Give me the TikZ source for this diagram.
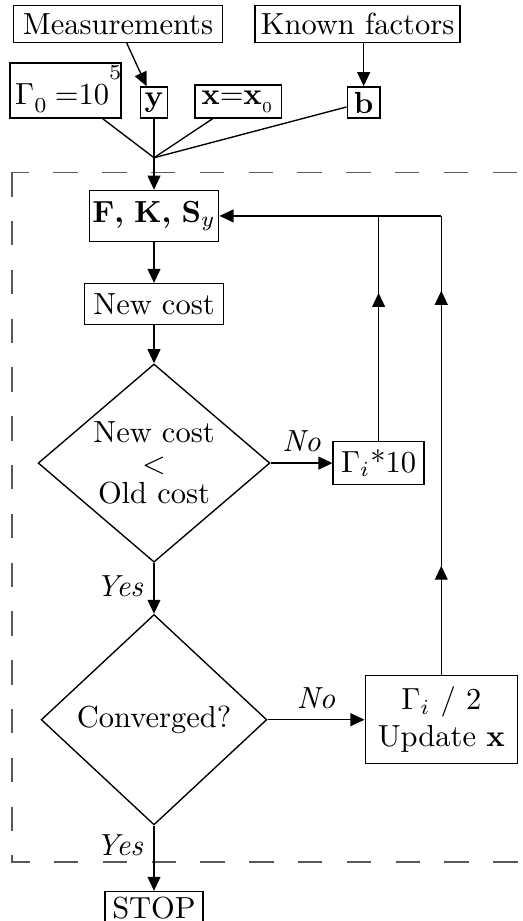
\documentclass[tikz,border=0pt]{standalone}
\usepackage{amsmath,amssymb}
\usepackage{tikz}
\usetikzlibrary{arrows.meta,positioning,shapes.geometric,calc,decorations.markings}

\begin{document}
\begin{tikzpicture}[>={Triangle[length=4.6pt,width=4.2pt]}, line width=0.45pt]
\tikzset{blk/.style={draw, inner sep=1pt}}
\tikzset{dec/.style={draw, shape=diamond, inner sep=-1pt, align=center}}
\tikzset{midarrow/.style={postaction={decorate, decoration={markings, mark=at position #1 with {\arrow{>}}}}}}
\clip (-50.5pt,70.8pt) rectangle (120.7pt,-231.2pt);
% main loop
\node[blk, minimum width=42pt, minimum height=16.7pt] (fks) {$\mathbf{F}$\textbf{,} $\mathbf{K}$\textbf{,} $\mathbf{S}_y$};
\node[blk, minimum width=45.6pt, minimum height=13.4pt, below=13.4pt of fks] (cost) {New cost};
\node[dec, minimum width=76pt, minimum height=65pt, below=12.5pt of cost] (cmp) {New cost\\[-2pt]$<$\\[-2pt]Old cost};
\node[dec, minimum width=74pt, minimum height=69pt, below=16.7pt of cmp] (conv) {Converged?};
\node[blk, minimum width=32.1pt, minimum height=10.6pt, below=21.4pt of conv] (stop) {STOP};
\node[blk, minimum width=29.8pt, minimum height=14.1pt, right=20.3pt of cmp] (up) {$\Gamma_i$*10};
\node[blk, minimum width=49.9pt, minimum height=28.9pt, right=31.8pt of conv, align=center] (down) {$\Gamma_i$ / 2\\Update $\mathbf{x}$};
% inputs
\coordinate[above=10.5pt of fks] (m);
\node[blk, minimum width=8.9pt, minimum height=10.2pt, above=12.8pt of m] (y) {$\mathbf{y}$};
\node[draw, inner xsep=1.7pt, inner ysep=0pt, text height=13.8pt, text depth=4.3pt, left=5.9pt of y.south west, anchor=south east] (gam)
  {\makebox[33pt][l]{$\Gamma$\raisebox{-2.6pt}{$\scriptstyle 0$}\;$=$10\raisebox{8.2pt}{$\scriptstyle 5$}}};
\node[blk, minimum width=28.5pt, minimum height=10.8pt, right=8.5pt of y.south east, anchor=south west] (xx) {$\mathbf{x}{=}\mathbf{x}_{_0}$};
\node[blk, minimum width=10.8pt, minimum height=10.2pt, right=21pt of xx.south east, anchor=south west] (b) {$\mathbf{b}$};
\node[blk, minimum width=68.5pt, minimum height=12.1pt, above=14.1pt of y, xshift=-11.8pt] (meas) {Measurements};
\node[blk, minimum width=67.2pt, minimum height=12.1pt, above=14.1pt of b, xshift=-2pt] (known) {Known factors};
\draw[black!65, dash pattern=on 8pt off 8pt] (-46.6pt,14.3pt) rectangle (130pt,-211.9pt);
\draw[->] (meas) -- (y);
\draw[->] (known.south -| b) -- (b);
\draw (gam) -- (m);
\draw (y) -- (m);
\draw (xx) -- (m);
\draw (b) -- (m);
\draw[->] (m) -- (fks);
\draw[->] (fks) -- (cost);
\draw[->] (cost) -- (cmp);
\draw[->] (cmp) -- node[left, pos=0.45] {\textit{Yes}} (conv);
\draw[->] (conv) -- node[left, pos=0.3] {\textit{Yes}} (stop);
\draw[->] (cmp) -- node[above] {\textit{No}} (up);
\draw[->] (conv) -- node[above] {\textit{No}} (down);
\draw[midarrow=0.658] (up) -- (up |- fks);
\draw[->] (up |- fks) -- (fks);
\draw[midarrow=0.238, midarrow=0.837] (down) -- (down |- fks);
\draw (down |- fks) -- (up |- fks);
\end{tikzpicture}
\end{document}
